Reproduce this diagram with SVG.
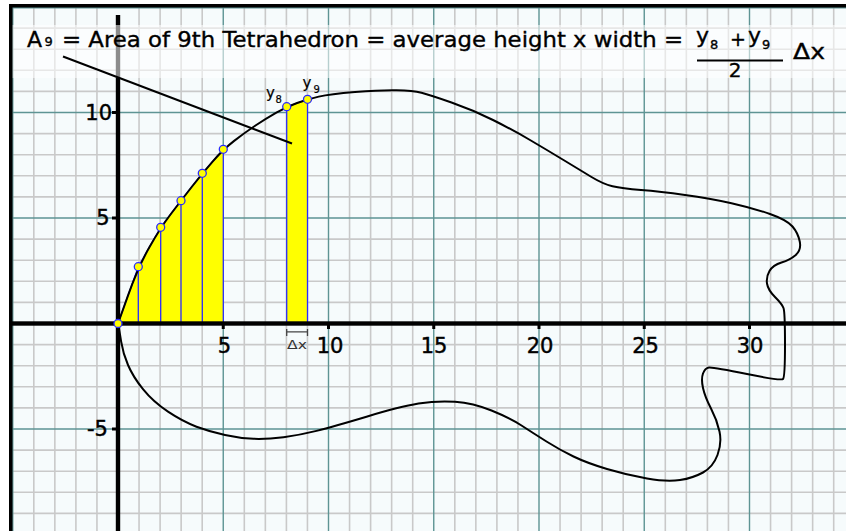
<svg xmlns="http://www.w3.org/2000/svg" width="846" height="531" viewBox="0 0 846 531">
<style>
.minor{stroke:#c9c9c9;stroke-width:1.6;fill:none}
.major{stroke:#5e9494;stroke-width:1.4;fill:none}
.t{font-family:"DejaVu Sans","Liberation Sans",sans-serif;fill:#000;stroke:#000;stroke-width:0.35}
.lab{font-family:"DejaVu Sans","Liberation Sans",sans-serif;font-size:21px;fill:#000;stroke:#000;stroke-width:0.45}
.shade{fill:#ffff00;stroke:#2a2aff;stroke-width:1.3}
.pt{fill:#ffff00;stroke:#2a2aff;stroke-width:1.3}
.ink{stroke:#000;fill:none;stroke-width:2}
</style>
<rect x="0" y="0" width="846" height="531" fill="#ffffff"/>
<rect x="12" y="7" width="834" height="524" fill="#f6fbfc"/>
<g id="grid">
<path class="minor" d="M33.8,8V531M54.85,8V531M75.9,8V531M96.95,8V531M139.05,8V531M160.1,8V531M181.15,8V531M202.2,8V531M244.3,8V531M265.35,8V531M286.4,8V531M307.45,8V531M349.55,8V531M370.6,8V531M391.65,8V531M412.7,8V531M454.8,8V531M475.85,8V531M496.9,8V531M517.95,8V531M560.05,8V531M581.1,8V531M602.15,8V531M623.2,8V531M665.3,8V531M686.35,8V531M707.4,8V531M728.45,8V531M770.55,8V531M791.6,8V531M812.65,8V531M833.7,8V531"/>
<path class="minor" d="M12,28.1H846M12,49.2H846M12,70.3H846M12,91.4H846M12,133.6H846M12,154.7H846M12,175.8H846M12,196.9H846M12,239.1H846M12,260.2H846M12,281.3H846M12,302.4H846M12,344.6H846M12,365.7H846M12,386.8H846M12,407.9H846M12,450.1H846M12,471.2H846M12,492.3H846M12,513.4H846"/>
<path class="major" d="M12.75,8V531M223.25,8V531M328.5,8V531M433.75,8V531M539,8V531M644.25,8V531M749.5,8V531M12,7.8H846M12,112.5H846M12,218H846M12,429H846"/>
</g>
<g id="shading">
<polygon class="shade" points="118,323.5 138.3,266.7 160.7,227.3 181,200.7 202.3,173.3 223.3,149.3 223.3,323.5"/>
<path stroke="#2a2aff" stroke-width="1.3" d="M138.3,266.7V323.5M160.7,227.3V323.5M181,200.7V323.5M202.3,173.3V323.5"/>
<polygon class="shade" points="286.7,323.5 286.7,106.7 307.5,99.3 307.5,323.5"/>
</g>
<g id="curve">
<path class="ink" stroke-linejoin="round" d="M118,323.5 L128.15,295.1 Q138.3,266.7 149.5,247 Q160.7,227.3 170.85,214 Q181,200.7 191.65,187 Q202.3,173.3 212.8,161.3 Q223.3,149.3 234.15,140.9 Q245,132.5 255.5,125.5 Q266,118.5 276.35,112.6 Q286.7,106.7 297.1,103 Q307.5,99.3 318.75,96.65 Q330,94 355,92 Q380,90 396.5,90.25 Q413,90.5 421.5,92.75 Q430,95 451.5,102.5 Q473,110 493,120 Q513,130 530,140 Q547,150 563.5,160 Q580,170 591.5,177 Q603,184 612.5,186.25 Q622,188.5 641,190 Q660,191.5 685,194.9 Q710,198.3 731.5,203.15 Q753,208 770,214 Q787,220 792.5,226.5 Q798,233 799.75,241.5 Q801.5,250 795.75,255 Q790,260 781.5,262.5 Q773,265 769.5,271 Q766,277 767,283.5 Q768,290 775,297 Q782,304 783.5,308 Q785,312 785,344.5 Q785,377 783,379 Q781,381 747,374 Q713,367 709,367.5 Q705,368 703,373.5 Q701,379 703,388 Q705,397 711,408.5 Q717,420 719.5,431.5 Q722,443 717.5,455 Q713,467 703,472.5 Q693,478 680,480 Q667,482 647,478.5 Q627,475 607,469 Q587,463 573.5,456.5 Q560,450 546.5,441.5 Q533,433 521.5,425.5 Q510,418 491.5,410.5 Q473,403 455,401.75 Q437,400.5 418.5,403.6 Q400,406.7 366.5,416.7 Q333,426.7 316.5,430.85 Q300,435 283.5,437.15 Q267,439.3 253.5,438.8 Q240,438.3 225,435 Q210,431.7 196.5,426.7 Q183,421.7 168,411.7 Q153,401.7 143,389.2 Q133,376.7 128,365 Q123,353.3 121.15,341.65 Q119.3,330 118,323.5 Z"/>
</g>
<g id="axes">
<rect x="12" y="321.3" width="834" height="4.4" fill="#000"/>
<rect x="115.8" y="15" width="4.4" height="516" fill="#000"/>
<path stroke="#000" stroke-width="3" d="M223.25,324V329M328.5,324V329M433.75,324V329M539,324V329M644.25,324V329M749.5,324V329M112,112.5H118M112,218H118M112,429H118"/>
</g>
<rect id="title-band" x="12" y="25" width="834" height="53" fill="#ffffff" fill-opacity="0.55"/>
<g id="title">
<text class="t" x="27" y="47" font-size="22">A</text>
<text class="t" x="44.5" y="46" font-size="13">9</text>
<text class="t" x="62" y="47" font-size="21" textLength="621" lengthAdjust="spacingAndGlyphs">= Area of 9th Tetrahedron = average height x width =</text>
<text class="t" x="696" y="43" font-size="22">y</text>
<text class="t" x="710" y="49" font-size="13">8</text>
<text class="t" x="730" y="46" font-size="19">+</text>
<text class="t" x="748" y="43" font-size="22">y</text>
<text class="t" x="762" y="49" font-size="13">9</text>
<line x1="697" y1="60.5" x2="783" y2="60.5" stroke="#000" stroke-width="2"/>
<text class="t" x="735" y="77" font-size="20" text-anchor="middle">2</text>
<text class="t" x="793" y="59" font-size="21" textLength="32" lengthAdjust="spacingAndGlyphs">Δx</text>
</g>
<g id="pointer">
<line x1="63" y1="56.5" x2="292" y2="143.5" class="ink"/>
</g>
<g id="points">
<circle class="pt" cx="118" cy="323.5" r="4"/>
<circle class="pt" cx="138.3" cy="266.7" r="4"/>
<circle class="pt" cx="160.7" cy="227.3" r="4"/>
<circle class="pt" cx="181" cy="200.7" r="4"/>
<circle class="pt" cx="202.3" cy="173.3" r="4"/>
<circle class="pt" cx="223.3" cy="149.3" r="4"/>
<circle class="pt" cx="286.7" cy="106.7" r="4"/>
<circle class="pt" cx="307.5" cy="99.3" r="4"/>
</g>
<g id="point-labels">
<text class="t" x="266" y="98" font-size="15" style="stroke-width:0.2">y</text>
<text class="t" x="275.5" y="103" font-size="10" style="stroke-width:0.2">8</text>
<text class="t" x="302.5" y="88" font-size="15" style="stroke-width:0.2">y</text>
<text class="t" x="313.5" y="92.5" font-size="10" style="stroke-width:0.2">9</text>
</g>
<g id="dx">
<path d="M286.7,329V336M286.7,331.8H307.5M307.5,329V336" stroke="#444" stroke-width="1.3" fill="none"/>
<text x="287" y="349" font-family="DejaVu Sans, sans-serif" font-size="13" fill="#333" textLength="20" lengthAdjust="spacingAndGlyphs">Δx</text>
</g>
<g id="axis-labels">
<text class="lab" x="224.5" y="353" text-anchor="middle">5</text>
<text class="lab" x="330" y="353" text-anchor="middle">10</text>
<text class="lab" x="434" y="353" text-anchor="middle">15</text>
<text class="lab" x="540" y="353" text-anchor="middle">20</text>
<text class="lab" x="645.5" y="353" text-anchor="middle">25</text>
<text class="lab" x="750" y="353" text-anchor="middle">30</text>
<text class="lab" x="112" y="119.5" text-anchor="end">10</text>
<text class="lab" x="109.5" y="225" text-anchor="end">5</text>
<text class="lab" x="108" y="436" text-anchor="end">-5</text>
</g>
<g id="frame">
<rect x="9" y="4" width="3.5" height="527" fill="#000"/>
<rect x="9" y="4" width="837" height="3.5" fill="#000"/>
</g>
</svg>
